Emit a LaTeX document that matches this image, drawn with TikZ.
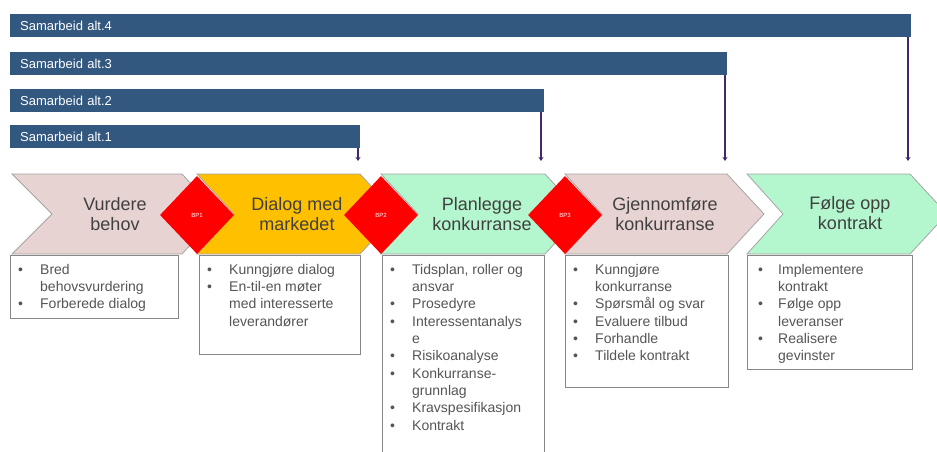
\documentclass[tikz,border=0pt]{standalone}
\usepackage{fontspec}
\setmainfont{Liberation Sans}
\usetikzlibrary{shapes.geometric,arrows.meta}
\definecolor{barblue}{RGB}{50,88,128}
\definecolor{arrpurple}{RGB}{65,40,110}
\definecolor{pinkc}{RGB}{231,211,209}
\definecolor{yellowc}{RGB}{255,192,0}
\definecolor{greenc}{RGB}{180,246,206}
\definecolor{chevborder}{RGB}{165,165,165}
\definecolor{titlegray}{RGB}{64,64,64}
\definecolor{listgray}{RGB}{85,85,85}
\definecolor{boxborder}{RGB}{135,135,135}
\newcommand{\bl}{\textbullet}
\begin{document}
\begin{tikzpicture}[x=1pt,y=-1pt,
  bar/.style={fill=barblue, draw=none, anchor=north west, minimum height=23pt, inner xsep=10pt, inner ysep=0pt, align=left, text=white, font=\fontsize{13}{14}\selectfont},
  arr/.style={draw=arrpurple, line width=2.2pt, -{Stealth[length=4pt,width=5pt]}},
  chev/.style={draw=chevborder, line width=0.8pt},
  title/.style={align=center, text=titlegray, font=\fontsize{18}{20}\selectfont, inner sep=0pt},
  bp/.style={diamond, fill=red, draw=none, minimum width=74pt, minimum height=78pt, inner sep=0pt, text=white, font=\fontsize{6}{7}\selectfont},
  lbox/.style={draw=boxborder, line width=1pt, fill=white, anchor=north west, inner sep=0pt},
  ltext/.style={anchor=north west, inner sep=0pt, text=listgray, font=\fontsize{14}{17.33}\selectfont}
]
\useasboundingbox (0,0) rectangle (937,452);

% bars
\node[bar, text width=881pt] (bar4) at (10,14) {Samarbeid alt.4};
\node[bar, text width=697pt] (bar3) at (10,52) {Samarbeid alt.3};
\node[bar, text width=514pt] (bar2) at (10,89) {Samarbeid alt.2};
\node[bar, text width=330pt] (bar1) at (10,125) {Samarbeid alt.1};

\coordinate (e4) at (908,161);
\coordinate (e3) at (725,161);
\coordinate (e2) at (541,161);
\coordinate (e1) at (358,161);
\draw[arr] (bar4.south -| e4) -- (e4);
\draw[arr] (bar3.south -| e3) -- (e3);
\draw[arr] (bar2.south -| e2) -- (e2);
\draw[arr] (bar1.south -| e1) -- (e1);

% chevrons
\path[chev, fill=pinkc]   (12,174) -- (182,174) -- (219,214) -- (182,254) -- (12,254) -- (52,214) -- cycle;
\path[chev, fill=yellowc] (197,174) -- (360,174) -- (397,214) -- (360,254) -- (197,254) -- (234,214) -- cycle;
\path[chev, fill=greenc]  (381,174) -- (545,174) -- (582,214) -- (545,254) -- (381,254) -- (418,214) -- cycle;
\path[chev, fill=pinkc]   (565,174) -- (727,174) -- (764,214) -- (727,254) -- (565,254) -- (602,214) -- cycle;
\path[chev, fill=greenc]  (747,174) -- (910,174) -- (947,214) -- (910,254) -- (747,254) -- (783,214) -- cycle;

\node[title] (t1) at (115,214) {Vurdere\\behov};
\node[title] (t2) at (297,214) {Dialog med\\markedet};
\node[title] (t3) at (482,214) {Planlegge\\konkurranse};
\node[title] (t4) at (665,214) {Gjennomføre\\konkurranse};
\node[title] (t5) at (850,213) {Følge opp\\kontrakt};

% decision points
\node[bp] (bp1) at (197,215) {BP1};
\node[bp] (bp2) at (381,215) {BP2};
\node[bp] (bp3) at (565,215) {BP3};

% list boxes
\node[lbox, minimum width=168pt, minimum height=63pt] (b1) at (10,255) {};
\node[lbox, minimum width=161pt, minimum height=99pt] (b2) at (199,255) {};
\node[lbox, minimum width=162pt, minimum height=205pt] (b3) at (382,255) {};
\node[lbox, minimum width=163pt, minimum height=132pt] (b4) at (565,255) {};
\node[lbox, minimum width=165pt, minimum height=114pt] (b5) at (747,255) {};

\node[ltext] (l1) at ([xshift=8pt,yshift=-7pt]b1.north west) {\begin{tabular}{@{}p{22pt}@{}l@{}}
\bl & Bred\\ & behovsvurdering\\ \bl & Forberede dialog\end{tabular}};
\node[ltext] (l2) at ([xshift=8pt,yshift=-7pt]b2.north west) {\begin{tabular}{@{}p{22pt}@{}l@{}}
\bl & Kunngjøre dialog\\ \bl & En-til-en møter\\ & med interesserte\\ & leverandører\end{tabular}};
\node[ltext] (l3) at ([xshift=8pt,yshift=-7pt]b3.north west) {\begin{tabular}{@{}p{22pt}@{}l@{}}
\bl & Tidsplan, roller og\\ & ansvar\\ \bl & Prosedyre\\ \bl & Interessentanalys\\ & e\\ \bl & Risikoanalyse\\ \bl & Konkurranse-\\ & grunnlag\\ \bl & Kravspesifikasjon\\ \bl & Kontrakt\end{tabular}};
\node[ltext] (l4) at ([xshift=8pt,yshift=-7pt]b4.north west) {\begin{tabular}{@{}p{22pt}@{}l@{}}
\bl & Kunngjøre\\ & konkurranse\\ \bl & Spørsmål og svar\\ \bl & Evaluere tilbud\\ \bl & Forhandle\\ \bl & Tildele kontrakt\end{tabular}};
\node[ltext] (l5) at ([xshift=11pt,yshift=-7pt]b5.north west) {\begin{tabular}{@{}p{20pt}@{}l@{}}
\bl & Implementere\\ & kontrakt\\ \bl & Følge opp\\ & leveranser\\ \bl & Realisere\\ & gevinster\end{tabular}};
\end{tikzpicture}
\end{document}
